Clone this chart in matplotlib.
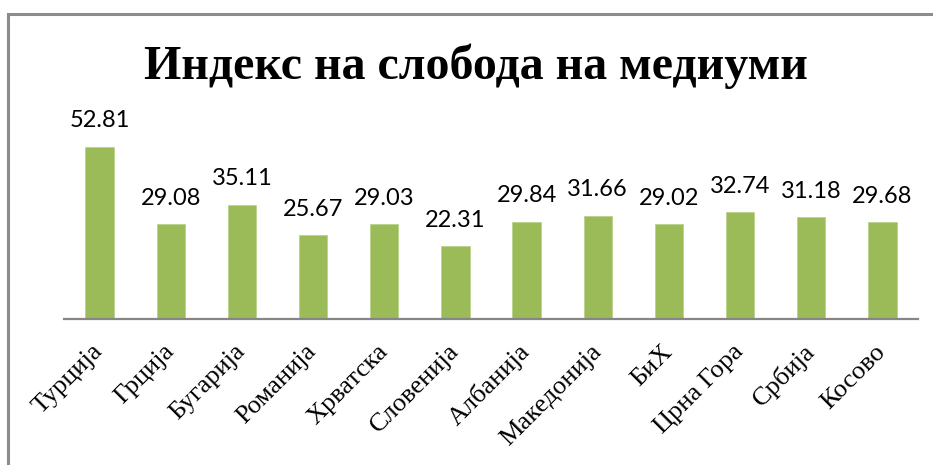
import matplotlib.pyplot as plt
from matplotlib.patches import Rectangle

# ── Податоци ──────────────────────────────────────────────────────────────────
countries = ["Турција", "Грција", "Бугарија", "Романија", "Хрватска", "Словенија",
             "Албанија", "Македонија", "БиХ", "Црна Гора", "Србија", "Косово"]
values = [52.81, 29.08, 35.11, 25.67, 29.03, 22.31,
          29.84, 31.66, 29.02, 32.74, 31.18, 29.68]
title = "Индекс на слобода на медиуми"

W, H = 933, 465
fig = plt.figure(figsize=(W / 100, H / 100), dpi=100)

# рамка на графиконот (исечена десно и долу)
fig.add_artist(Rectangle((8 / W, -0.2), 1.2, 1.2 - 14 / H,
                         transform=fig.transFigure, fill=False,
                         edgecolor="#8c8c8c", linewidth=2.2))

ax = fig.add_axes([64 / W, 1 - 319 / H, 854 / W, 195.6 / H])
x = range(len(countries))
ax.bar(x, values, width=0.4, color="#9bbb59", edgecolor="#b9d38a", linewidth=0.6)

for xi, v in zip(x, values):
    ax.annotate(f"{v:.2f}", (xi, v), xytext=(0, 14), textcoords="offset points",
                ha="center", va="baseline", fontsize=17, family="Lato",
                annotation_clip=False)

ax.set_xlim(-0.5, len(countries) - 0.5)
ax.set_ylim(0, 60)
ax.set_yticks([])
ax.set_xticks(list(x))
ax.set_xticklabels(countries, family="Liberation Serif", fontsize=19)
plt.setp(ax.get_xticklabels(), rotation=45, ha="right", va="center",
         rotation_mode="anchor")
ax.tick_params(axis="x", length=0, pad=21)
for side in ["top", "right", "left"]:
    ax.spines[side].set_visible(False)
ax.spines["bottom"].set_color("#868686")
ax.spines["bottom"].set_linewidth(1.6)

fig.text(476 / W, 1 - 66 / H, title, ha="center", va="center",
         family="Liberation Serif", fontweight="bold", fontsize=34.5)

fig.savefig("out.png", dpi=100)
